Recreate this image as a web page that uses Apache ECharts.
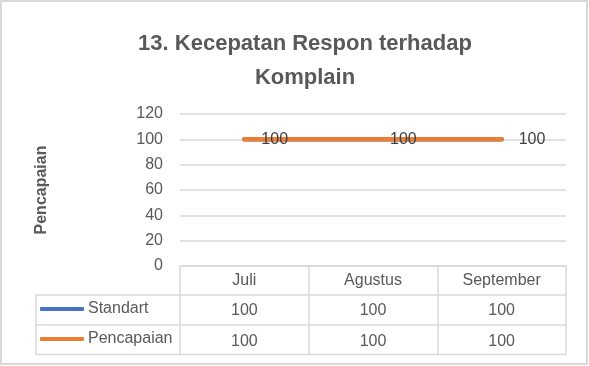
<!DOCTYPE html>
<html>
<head>
<meta charset="utf-8">
<script src="https://cdn.jsdelivr.net/npm/echarts@6/dist/echarts.min.js"></script>
<style>
html,body{margin:0;padding:0;background:#fff;}
#c{width:589px;height:366px;}
</style>
</head>
<body>
<div id="c"></div>
<script>
var categories = ['Juli', 'Agustus', 'September'];
var standart = [100, 100, 100];
var pencapaian = [100, 100, 100];
var yTicks = [0, 20, 40, 60, 80, 100, 120];

var FONT = 'Liberation Sans';
var GRAY = '#D9D9D9';
var chart = echarts.init(document.getElementById('c'));

var gridLeft = 180, gridRight = 566, gridTop = 114, gridBottom = 266;
var tableLeft = 36, row1 = 295, row2 = 325, row3 = 354.5;

chart.setOption({
  animation: false,
  title: {
    text: '13. Kecepatan Respon terhadap\nKomplain',
    left: 300, textAlign: 'center', top: 22,
    textStyle: {fontFamily: FONT, fontSize: 22, fontWeight: 'bold', color: '#595959', lineHeight: 34}
  },
  legend: {
    orient: 'vertical', left: 40, top: row1 + 6, padding: 0,
    itemWidth: 44, itemHeight: 4, itemGap: 14,
    icon: 'roundRect',
    data: ['Standart', 'Pencapaian'],
    textStyle: {fontFamily: FONT, fontSize: 16, color: '#595959', lineHeight: 16, padding: [0, 0, 0, -1]}
  },
  grid: {left: gridLeft, right: 589 - gridRight, top: gridTop, bottom: 366 - gridBottom, containLabel: false},
  xAxis: [
    {
      type: 'category', data: categories, boundaryGap: true,
      axisLine: {show: true, lineStyle: {color: GRAY, width: 1.5}},
      axisTick: {show: true, length: row3 - gridBottom, lineStyle: {color: GRAY, width: 1.5}},
      axisLabel: {margin: 7, fontFamily: FONT, fontSize: 16, color: '#595959'}
    },
    {
      type: 'category', data: categories, position: 'bottom',
      axisLine: {show: false}, axisTick: {show: false},
      axisLabel: {margin: 37, fontFamily: FONT, fontSize: 16, color: '#595959',
        formatter: function (v, i) { return String(standart[i]); }}
    },
    {
      type: 'category', data: categories, position: 'bottom',
      axisLine: {show: false}, axisTick: {show: false},
      axisLabel: {margin: 68, fontFamily: FONT, fontSize: 16, color: '#595959',
        formatter: function (v, i) { return String(pencapaian[i]); }}
    }
  ],
  yAxis: {
    type: 'value', min: yTicks[0], max: yTicks[yTicks.length - 1], interval: 20,
    name: 'Pencapaian', nameLocation: 'middle', nameGap: 130, nameRotate: 90,
    nameTextStyle: {fontFamily: FONT, fontSize: 16, fontWeight: 'bold', color: '#595959'},
    axisLine: {show: false}, axisTick: {show: false},
    axisLabel: {margin: 17, fontFamily: FONT, fontSize: 16, color: '#595959'},
    splitLine: {lineStyle: {color: GRAY, width: 1.5}}
  },
  series: [
    {
      name: 'Standart', type: 'line', data: standart, xAxisIndex: 0,
      symbol: 'none', itemStyle: {color: '#4472C4'},
      lineStyle: {color: '#4472C4', width: 4.5, cap: 'round'}
    },
    {
      name: 'Pencapaian', type: 'line', data: pencapaian, xAxisIndex: 0,
      symbol: 'circle', symbolSize: 0, showSymbol: true, itemStyle: {color: '#ED7D31'},
      lineStyle: {color: '#ED7D31', width: 4.5, cap: 'round'},
      label: {show: true, position: 'right', distance: 17, fontFamily: FONT, fontSize: 16, color: '#404040'}
    }
  ],
  graphic: [
    {type: 'rect', shape: {x: 1, y: 1, width: 586, height: 363}, style: {fill: null, stroke: GRAY, lineWidth: 2}, silent: true},
    {type: 'line', shape: {x1: tableLeft, y1: row1, x2: gridRight, y2: row1}, style: {stroke: GRAY, lineWidth: 1.5}},
    {type: 'line', shape: {x1: tableLeft, y1: row2, x2: gridRight, y2: row2}, style: {stroke: GRAY, lineWidth: 1.5}},
    {type: 'line', shape: {x1: tableLeft, y1: row3, x2: gridRight, y2: row3}, style: {stroke: GRAY, lineWidth: 1.5}},
    {type: 'line', shape: {x1: tableLeft, y1: row1, x2: tableLeft, y2: row3}, style: {stroke: GRAY, lineWidth: 1.5}}
  ]
});
</script>
</body>
</html>
